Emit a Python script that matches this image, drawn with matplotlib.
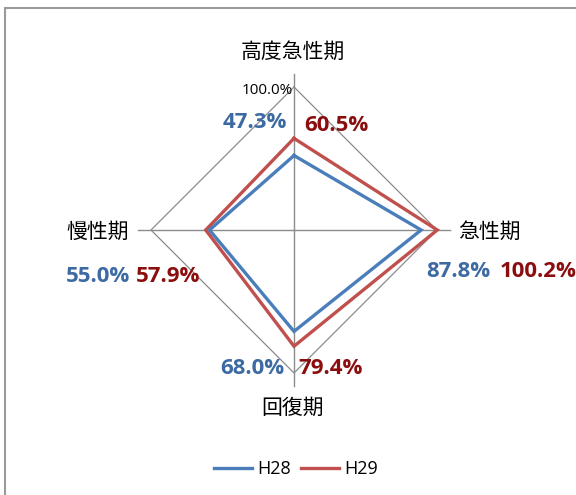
import numpy as np
import matplotlib
matplotlib.use("Agg")
import matplotlib.pyplot as plt
from matplotlib.patches import Rectangle
from matplotlib.lines import Line2D

categories = ["高度急性期", "急性期", "回復期", "慢性期"]
h28 = [47.3, 87.8, 68.0, 55.0]
h29 = [60.5, 100.2, 79.4, 57.9]
series_names = ["H28", "H29"]
max_val = 100.0
min_val = -10.0

W, H = 576, 495
fig = plt.figure(figsize=(W / 100, H / 100), dpi=100)
ax = fig.add_axes([0, 0, 1, 1])
cx, cy, R = 294, 230, 143
ax.set_xlim(-cx / R, (W - cx) / R)
ax.set_ylim(-(H - cy) / R, cy / R)
ax.axis("off")

def px(x, y):
    return (x - cx) / R, (cy - y) / R

n = len(categories)
theta = np.arange(n) * 2 * np.pi / n

def xy(vals):
    r = (np.asarray(vals) - min_val) / (max_val - min_val)
    x = r * np.sin(theta)
    y = r * np.cos(theta)
    return np.append(x, x[0]), np.append(y, y[0])

# grid diamond at 100%
gx, gy = xy([max_val] * n)
ax.plot(gx, gy, color="#8c8c8c", lw=0.9, zorder=1)
# spokes
for t in theta:
    ax.plot([0, 1.09 * np.sin(t)], [0, 1.09 * np.cos(t)], color="#8c8c8c", lw=1.0, zorder=1)

c28, c29 = "#4a7ebb", "#c0504d"
x28, y28 = xy(h28)
x29, y29 = xy(h29)
ax.plot(x28, y28, color=c28, lw=2.4, zorder=3, solid_joinstyle="miter")
ax.plot(x29, y29, color=c29, lw=2.4, zorder=2, solid_joinstyle="miter")

jp = ["Noto Sans CJK JP", "DejaVu Sans"]
cat_pos = [(293, 52), (489, 232), (293, 408), (98, 232)]
for name, (x, y) in zip(categories, cat_pos):
    ax.text(*px(x, y), name, family=jp, fontsize=15, ha="center", va="center", color="#000000")

ax.text(*px(293, 90), "100.0%", family="Open Sans", fontsize=11, ha="right", va="center", color="#000000")

lab28 = "#3d6aa2"
lab29 = "#8b0e0e"
pos28 = [(255, 122), (458, 271), (252, 368), (98, 276)]
pos29 = [(336, 125), (538, 271), (331, 368), (168, 276)]
for v, (x, y) in zip(h28, pos28):
    ax.text(*px(x, y), f"{v:.1f}%", family="Open Sans", fontweight="bold", fontsize=16,
            ha="center", va="center", color=lab28)
for v, (x, y) in zip(h29, pos29):
    ax.text(*px(x, y), f"{v:.1f}%", family="Open Sans", fontweight="bold", fontsize=16,
            ha="center", va="center", color=lab29)

handles = [Line2D([], [], color=c28, lw=2.4), Line2D([], [], color=c29, lw=2.4)]
fig.legend(handles, series_names, loc="center", bbox_to_anchor=(296 / W, 1 - 469 / H),
           ncol=2, frameon=False, prop={"family": "Open Sans", "size": 13},
           handlelength=2.1, handletextpad=0.25, columnspacing=0.6)

fig.patches.append(Rectangle((5 / W, -0.5), 2, 1.5 - 8 / H, transform=fig.transFigure,
                             fill=False, edgecolor="#9a9a9a", lw=1.5))

fig.savefig("out.png", dpi=100)
